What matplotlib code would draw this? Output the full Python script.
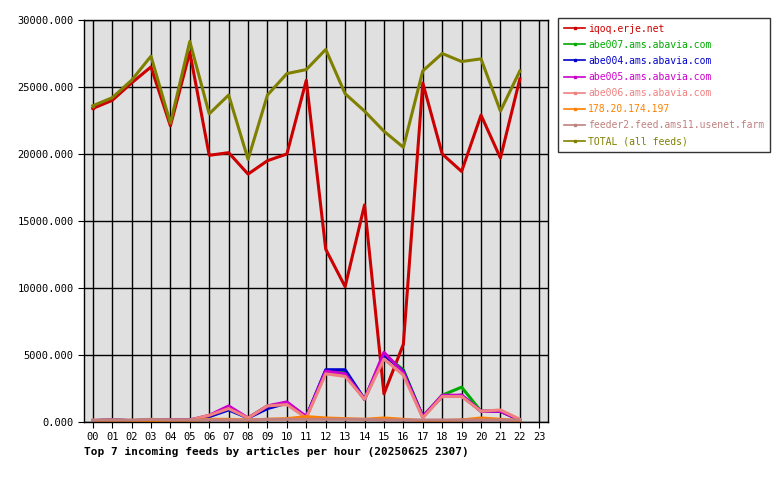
import matplotlib
matplotlib.use("Agg")
import matplotlib.pyplot as plt
from matplotlib.ticker import FuncFormatter

hours = list(range(23))
xlabels = [f"{h:02d}" for h in range(24)]
names = ["iqoq.erje.net", "abe007.ams.abavia.com", "abe004.ams.abavia.com",
         "abe005.ams.abavia.com", "abe006.ams.abavia.com", "178.20.174.197",
         "feeder2.feed.ams11.usenet.farm", "TOTAL (all feeds)"]
colors = ["#cc0000", "#00aa00", "#0000cc", "#cc00cc", "#f08080", "#ff8000", "#c08080", "#808000"]

iqoq = [23400,24000,25300,26500,22100,27600,19900,20100,18500,19500,20000,25500,12900,10100,16200,2100,5800,25300,20000,18700,22900,19700,25600]
abe007 = [100,150,100,150,150,150,400,1000,300,1200,1400,400,3700,3700,1700,5000,3900,400,2000,2600,800,800,150]
abe004 = [100,150,100,150,150,150,400,900,300,1000,1400,400,3900,3900,1700,5000,3800,400,1900,2000,800,800,150]
abe005 = [100,150,100,150,150,150,500,1200,300,1200,1500,400,3800,3600,1700,5200,3700,400,2000,2000,800,800,150]
abe006 = [100,150,100,150,150,150,500,1000,300,1200,1300,300,3600,3400,1700,4700,3500,300,1900,1900,800,900,200]
ip178 = [50,50,50,100,100,100,200,200,150,200,250,400,300,250,200,300,200,100,100,150,300,200,100]
feeder2 = [150,150,150,200,150,150,150,150,150,200,200,200,200,200,200,150,150,150,150,150,150,150,150]
total = [23600,24200,25500,27300,22300,28400,23000,24400,19600,24400,26000,26300,27800,24500,23200,21700,20500,26200,27500,26900,27100,23200,26200]
series = [iqoq, abe007, abe004, abe005, abe006, ip178, feeder2, total]

plt.rcParams["font.family"] = "DejaVu Sans Mono"
fig = plt.figure(figsize=(7.8, 4.8), dpi=100)
ax = fig.add_axes([84/780, 58/480, 464/780, 402/480])
ax.set_facecolor("#e0e0e0")
for s, c, n in zip(series, colors, names):
    ax.plot(hours, s, color=c, lw=2.2, label=n, marker="s", markersize=2, markevery=[0])
ax.set_xlim(-0.45, 23.45)
ax.set_ylim(0, 30000)
ax.set_xticks(range(24))
ax.set_xticklabels(xlabels, fontsize=7.5)
ax.set_yticks(range(0, 30001, 5000))
ax.yaxis.set_major_formatter(FuncFormatter(lambda v, p: f"{v:.3f}"))
ax.tick_params(labelsize=7.5, length=4, direction="out")
ax.grid(True, color="black", lw=1)
ax.set_axisbelow(True)
for sp in ax.spines.values():
    sp.set_linewidth(1)
fig.text(84/780, 1 - 452/480, "Top 7 incoming feeds by articles per hour (20250625 2307)",
         fontsize=8, fontweight="bold", va="center")
leg = fig.legend(*ax.get_legend_handles_labels(), loc="upper left",
                 bbox_to_anchor=(558/780, 1 - 18/480), fontsize=7, frameon=True,
                 fancybox=False, edgecolor="black", handlelength=2.2, handletextpad=0.3,
                 labelspacing=0.62, borderaxespad=0, borderpad=0.6)
for t, c in zip(leg.get_texts(), colors):
    t.set_color(c)
for h in leg.get_lines():
    h.set_linewidth(1.2)
fig.savefig("out.png", dpi=100)
